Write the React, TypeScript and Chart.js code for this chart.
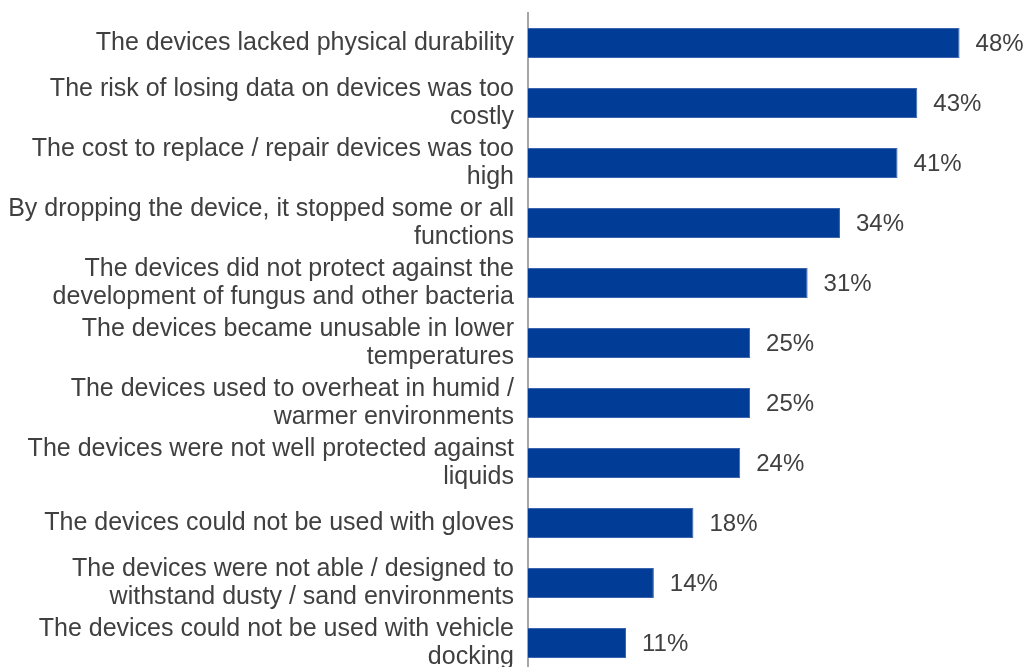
import React, { useEffect, useRef } from "react";
import { Chart, registerables } from "chart.js";

Chart.register(...registerables);

const categories: (string | string[])[] = [
  "The devices lacked physical durability",
  ["The risk of losing data on devices was too", "costly"],
  ["The cost to replace / repair devices was too", "high"],
  ["By dropping the device, it stopped some or all", "functions"],
  ["The devices did not protect against the", "development of fungus and other bacteria"],
  ["The devices became unusable in lower", "temperatures"],
  ["The devices used to overheat in humid /", "warmer environments"],
  ["The devices were not well protected against", "liquids"],
  "The devices could not be used with gloves",
  ["The devices were not able / designed to", "withstand dusty / sand environments"],
  ["The devices could not be used with vehicle", "docking"],
];

const values: number[] = [48.0, 43.3, 41.1, 34.7, 31.1, 24.7, 24.7, 23.6, 18.4, 14.0, 10.9];
const valueLabels: string[] = ["48%", "43%", "41%", "34%", "31%", "25%", "25%", "24%", "18%", "14%", "11%"];

const FONT = "'Liberation Sans', Arial, sans-serif";
const TEXT_COLOR = "#404040";

const valueLabelPlugin = {
  id: "valueLabels",
  afterDatasetsDraw(chart: any) {
    const { ctx } = chart;
    const meta = chart.getDatasetMeta(0);
    ctx.save();
    ctx.font = `24px ${FONT}`;
    ctx.fillStyle = TEXT_COLOR;
    ctx.textAlign = "left";
    ctx.textBaseline = "middle";
    meta.data.forEach((bar: any, i: number) => {
      ctx.fillText(valueLabels[i], bar.x + 16, bar.y + 1);
    });
    ctx.restore();
  },
};

export default function App() {
  const canvasRef = useRef<HTMLCanvasElement | null>(null);

  useEffect(() => {
    if (!canvasRef.current) return;
    const chart = new Chart(canvasRef.current, {
      type: "bar",
      data: {
        labels: categories,
        datasets: [
          {
            data: values,
            backgroundColor: "#013d96",
            borderColor: "#3c64ad",
            borderWidth: 1,
            barPercentage: 0.5,
            categoryPercentage: 1,
          },
        ],
      },
      options: {
        indexAxis: "y",
        animation: false,
        responsive: false,
        maintainAspectRatio: false,
        layout: { padding: { top: 13, bottom: 7, left: 0, right: 0 } },
        plugins: {
          legend: { display: false },
          tooltip: { enabled: false },
        },
        scales: {
          x: {
            display: false,
            min: 0,
            max: 55.5,
          },
          y: {
            afterFit: (scale: any) => {
              scale.width = 528;
              scale.paddingTop = 0;
              scale.paddingBottom = 0;
            },
            grid: { display: false },
            border: { display: true, color: "#a6a6a6", width: 2 },
            ticks: {
              autoSkip: false,
              padding: 6,
              color: TEXT_COLOR,
              font: { family: FONT, size: 25, lineHeight: 1.15 },
            },
          },
        },
      },
      plugins: [valueLabelPlugin],
    });
    return () => chart.destroy();
  }, []);

  return (
    <div style={{ position: "fixed", left: 0, top: 0, width: 1027, height: 680, background: "#fff" }}>
      <canvas ref={canvasRef} width={1027} height={680} style={{ width: 1027, height: 680 }} />
    </div>
  );
}
